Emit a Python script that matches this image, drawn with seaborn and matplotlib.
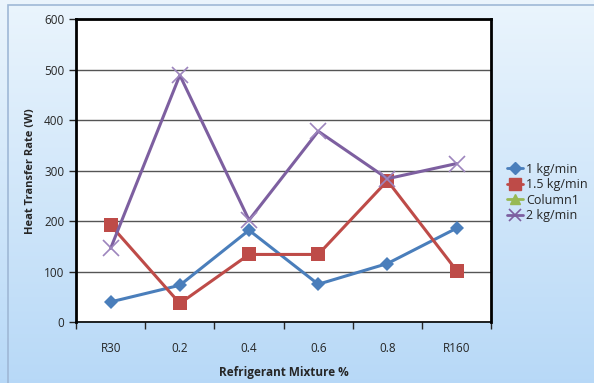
import numpy as np
import pandas as pd
import seaborn as sns
import matplotlib.pyplot as plt
from matplotlib.lines import Line2D
from matplotlib.patches import Rectangle

categories = ['R30', '0.2', '0.4', '0.6', '0.8', 'R160']
flow_1 = [40, 73, 182, 75, 116, 186]
flow_15 = [192, 37, 134, 134, 280, 102]
flow_2 = [146, 489, 202, 378, 284, 314]

df = pd.DataFrame({
    'Mixture': categories * 3,
    'Q': flow_1 + flow_15 + flow_2,
    'Series': ['1 kg/min'] * 6 + ['1.5 kg/min'] * 6 + ['2 kg/min'] * 6,
})

sns.set_style('white')
plt.rcParams['font.family'] = ['Open Sans', 'DejaVu Sans']

fig = plt.figure(figsize=(5.94, 3.83), dpi=100)

# gradient background
bg = fig.add_axes([0, 0, 1, 1], zorder=-10)
grad = np.linspace(0, 1, 256).reshape(-1, 1)
top = np.array([0.92, 0.96, 0.99])
bot = np.array([0.72, 0.85, 0.97])
img = top + (bot - top) * grad[:, :, None]
bg.imshow(img, aspect='auto', extent=[0, 1, 0, 1])
bg.add_patch(Rectangle((0.013, -0.01), 1.0, 0.998, fill=False, edgecolor='#9fb8d6', lw=1.2))
bg.set_xlim(0, 1)
bg.set_ylim(0, 1)
bg.axis('off')

ax = fig.add_axes([0.128, 0.159, 0.699, 0.791])
ax.set_facecolor('white')
styles = [
    ('1 kg/min', '#4a7ebb', '#4a7ebb', 'D', 7, 0),
    ('1.5 kg/min', '#be4b48', '#be4b48', 's', 10, 0),
    ('2 kg/min', '#7d5fa0', '#9d85bd', 'x', 11, 1.2),
]
for name, color, mcolor, marker, ms, mew in styles:
    sns.lineplot(data=df[df['Series'] == name], x='Mixture', y='Q', color=color,
                 marker=marker, markersize=ms, markeredgewidth=mew,
                 markeredgecolor=mcolor, linewidth=2.2, ax=ax)

ax.set_xlim(-0.5, 5.5)
ax.set_ylim(0, 600)
ax.set_yticks(range(0, 601, 100))
ax.yaxis.grid(True, color='#555555', lw=1)
ax.set_axisbelow(True)
ax.set_xticks(range(6))
ax.set_xticklabels(categories)
ax.set_xticks(np.arange(-0.5, 5.6, 1), minor=True)
ax.tick_params(axis='x', which='major', length=0, pad=14, labelsize=8.5)
ax.tick_params(axis='x', which='minor', length=5, width=1, direction='out', bottom=True)
ax.tick_params(axis='y', length=5, width=1, direction='out', left=True, labelsize=8.5)
for s in ax.spines.values():
    s.set_color('black')
    s.set_linewidth(2)
ax.spines['bottom'].set_linewidth(1.2)
ax.set_xlabel('Refrigerant Mixture %', fontweight='bold', fontsize=8.5, labelpad=8)
ax.set_ylabel('Heat Transfer Rate (W)', fontweight='bold', fontsize=8, labelpad=6)

handles = [
    Line2D([], [], color='#4a7ebb', marker='D', markersize=6, lw=2),
    Line2D([], [], color='#be4b48', marker='s', markersize=8, lw=2),
    Line2D([], [], color='#98b954', marker='^', markersize=7, lw=2),
    Line2D([], [], color='#7d5fa0', marker='x', markersize=8, markeredgewidth=1.2, lw=2),
]
labels = ['1 kg/min', '1.5 kg/min', 'Column1', '2 kg/min']
fig.legend(handles, labels, loc='upper left', bbox_to_anchor=(0.835, 0.605), frameon=False,
           fontsize=9, handlelength=1.3, handletextpad=0.2, labelspacing=0.2)

fig.savefig('out.png', dpi=100)
